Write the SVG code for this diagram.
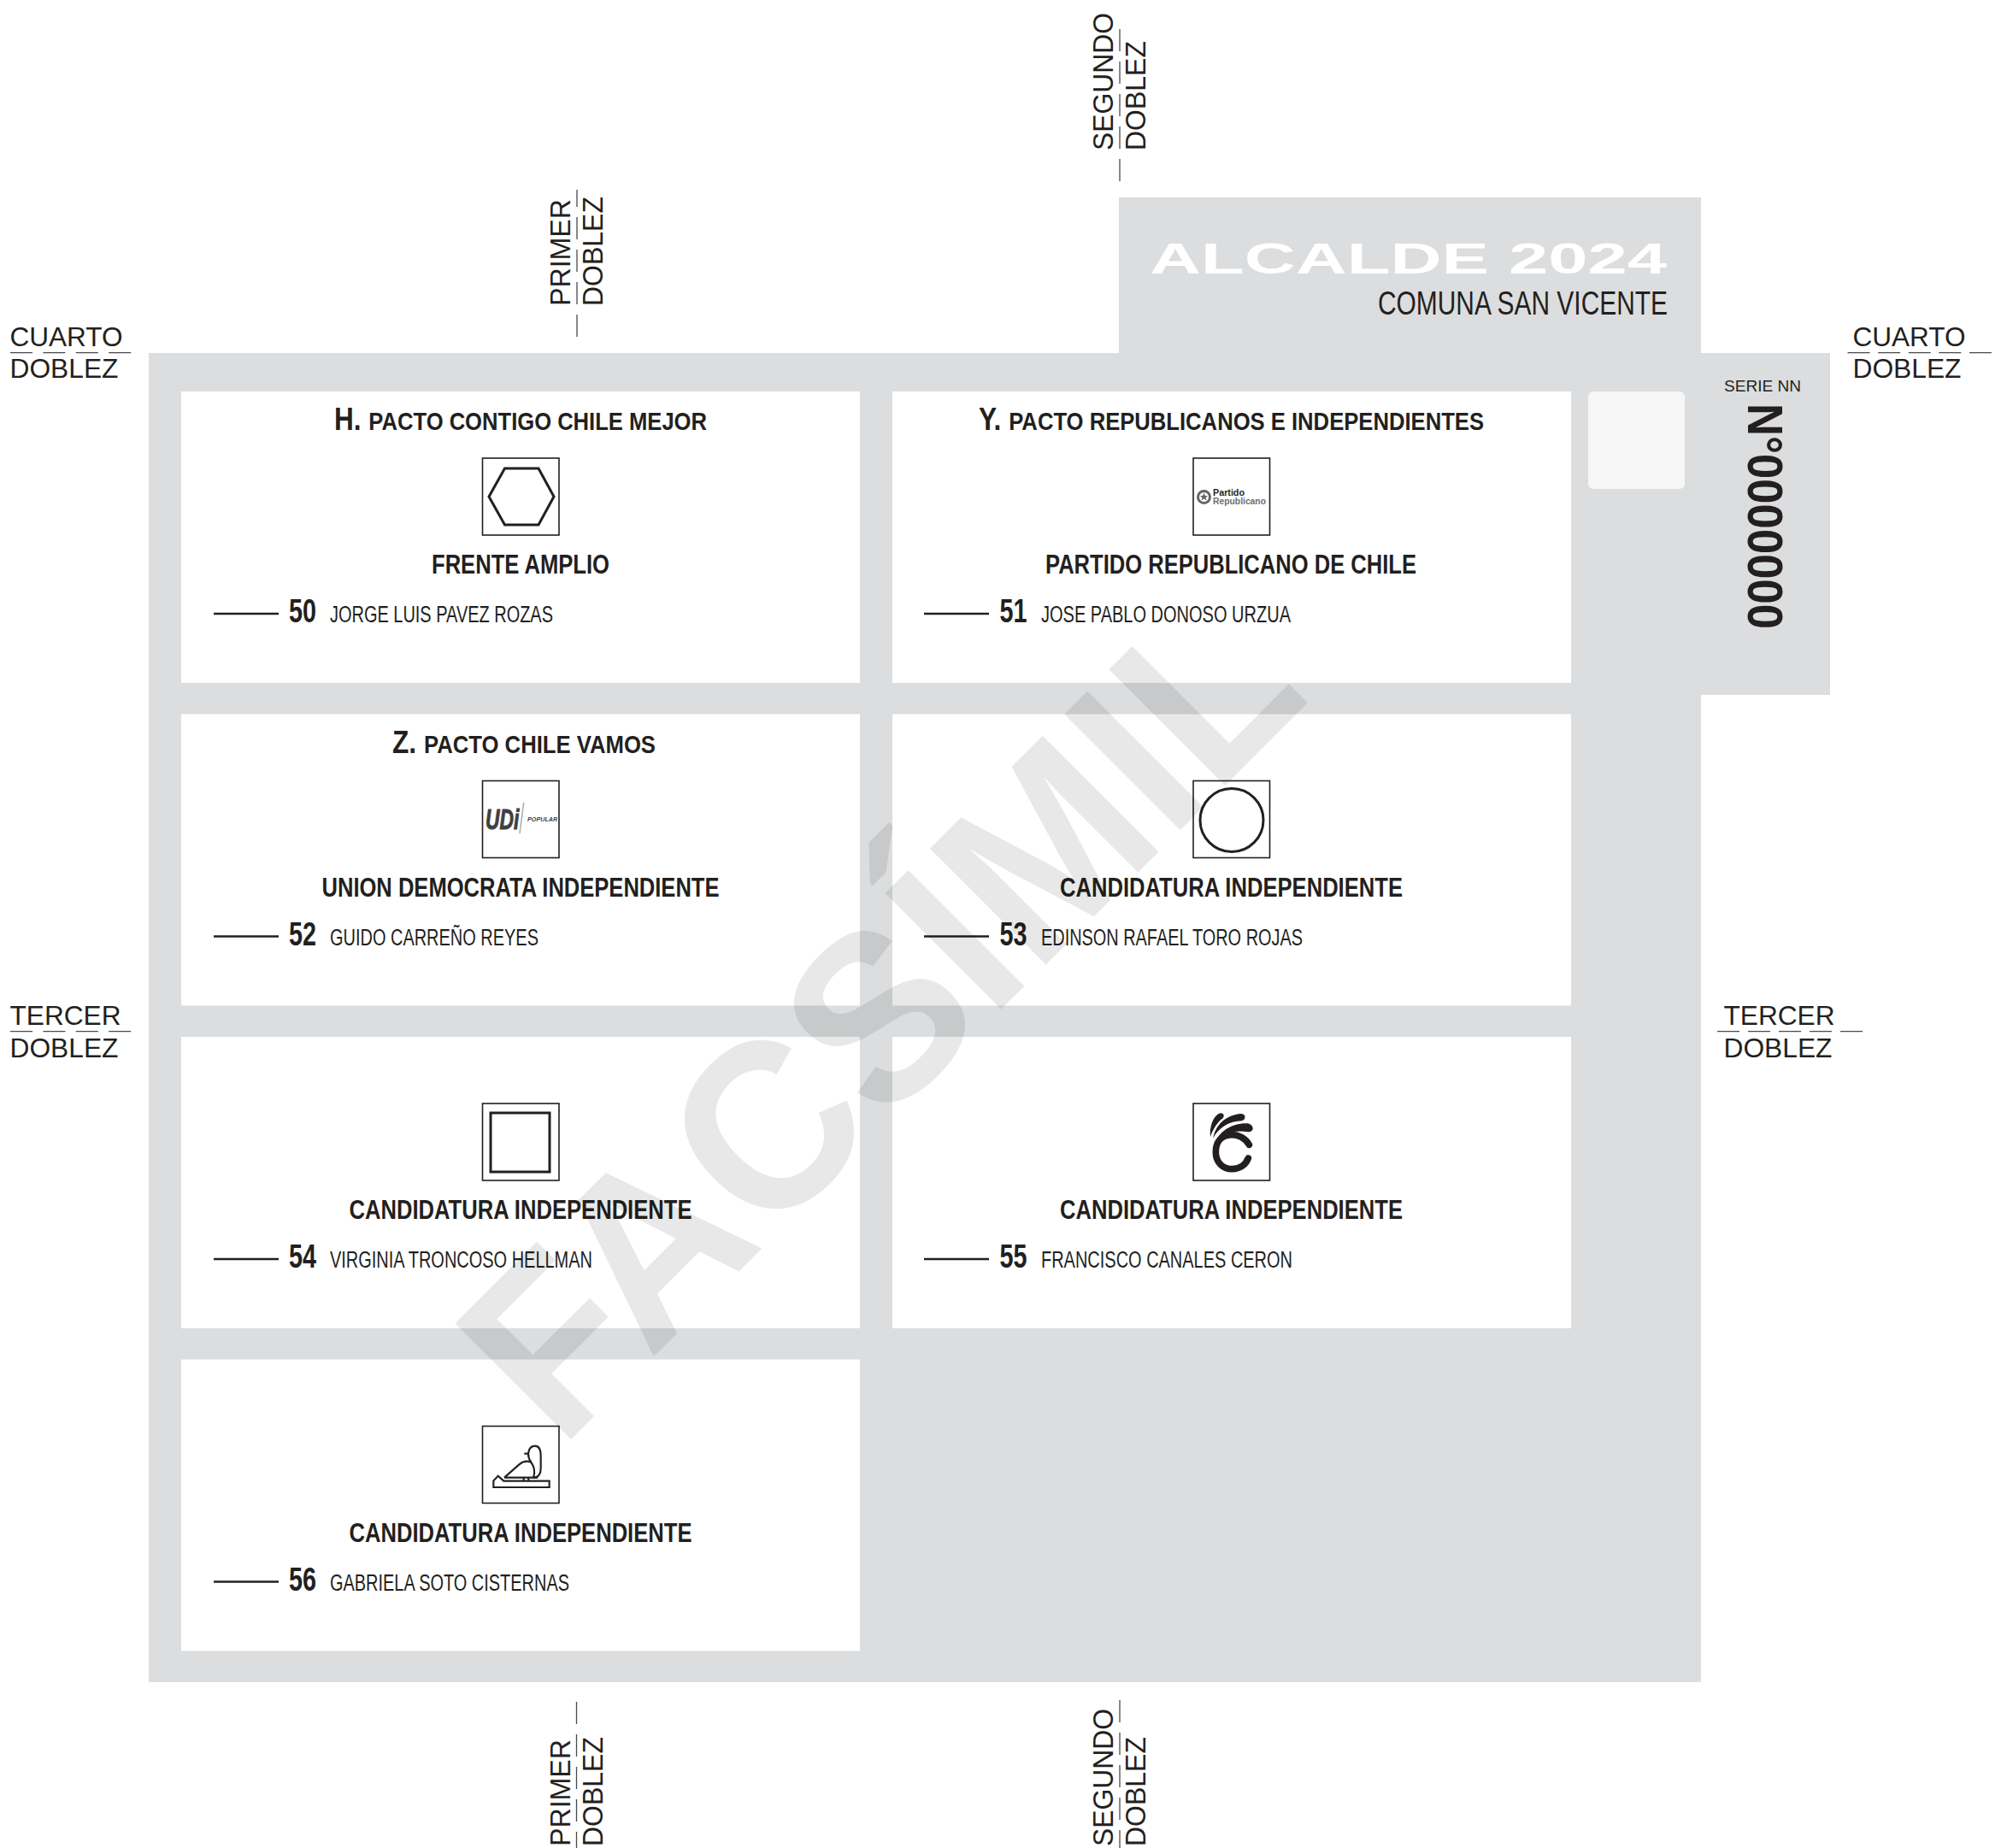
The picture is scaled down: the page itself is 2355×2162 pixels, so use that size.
<svg xmlns="http://www.w3.org/2000/svg" width="2355" height="2162" viewBox="0 0 2355 2162">
<style>
text{font-family:"Liberation Sans",Arial,sans-serif;fill:#231f20}
.n{font-family:"Liberation Sans Narrow","Liberation Sans",Arial,sans-serif}
.t{font-size:30px;font-weight:700}
.t .b{font-size:37px}
.p{font-size:31px;font-weight:700}
.k{font-size:39px;font-weight:700}
.c{font-size:27px}
.f{font-size:32px}
.v{font-size:33px}
.card{fill:#fff}
.box{fill:#fff;stroke:#231f20;stroke-width:1.6}
.mark{stroke:#231f20;stroke-width:2.6;fill:none}
.sym{fill:none;stroke:#231f20;stroke-width:3}
.fold{stroke:#4a4a4c;stroke-width:1.3;fill:none}
</style>
<path id="paper" fill="#dcddde" d="M174 413H1309V231H1990V413H2141V813H1990V1968H174Z"/>
<g id="header">
<text x="1345" y="320" textLength="605" lengthAdjust="spacingAndGlyphs" style="font-size:50px;font-weight:700;fill:#fff">ALCALDE 2024</text>
<text class="n" x="1612" y="368" textLength="339" lengthAdjust="spacingAndGlyphs" style="font-size:39px">COMUNA SAN VICENTE</text>
</g>
<g id="serial">
<rect x="1858" y="458" width="113" height="114" rx="6" fill="#f6f6f6"/>
<text class="n" x="2017" y="458" textLength="90" lengthAdjust="spacingAndGlyphs" style="font-size:19px">SERIE NN</text>
<text transform="translate(2045,472) rotate(90)" textLength="264" lengthAdjust="spacingAndGlyphs" style="font-size:57px;font-weight:700">N°0000000</text>
</g>
<g id="card-50">
<rect class="card" x="212" y="458" width="794" height="341"/>
<text class="n t" x="391" y="503" textLength="436" lengthAdjust="spacingAndGlyphs"><tspan class="b">H.</tspan><tspan dx="2"> PACTO CONTIGO CHILE MEJOR</tspan></text>
<rect class="box" x="564.5" y="536" width="89.5" height="90"/>
<path class="sym" d="M572 581 590.5 548H630L648 581 630 614H590.5Z"/>
<text class="n p" x="505" y="671" textLength="208" lengthAdjust="spacingAndGlyphs">FRENTE AMPLIO</text>
<path class="mark" d="M250 718H326"/>
<text class="n k" x="338" y="728" textLength="32" lengthAdjust="spacingAndGlyphs">50</text>
<text class="n c" x="386" y="728" textLength="261" lengthAdjust="spacingAndGlyphs">JORGE LUIS PAVEZ ROZAS</text>
</g>
<g id="card-51">
<rect class="card" x="1044" y="458" width="794" height="341"/>
<text class="n t" x="1145" y="503" textLength="591" lengthAdjust="spacingAndGlyphs"><tspan class="b">Y.</tspan><tspan dx="2"> PACTO REPUBLICANOS E INDEPENDIENTES</tspan></text>
<rect class="box" x="1396" y="536" width="89.5" height="90"/>
<circle cx="1408.5" cy="581.5" r="7" fill="none" stroke="#666" stroke-width="3"/>
<path d="M1408.5 576.5l1.4 3.4h3.4l-2.7 2.1 1 3.4-3.1-2-3.1 2 1-3.4-2.7-2.1h3.4z" fill="#666"/>
<text x="1419" y="579.5" textLength="37" lengthAdjust="spacingAndGlyphs" style="font-size:11.5px;font-weight:700">Partido</text>
<text x="1419" y="589.5" textLength="62" lengthAdjust="spacingAndGlyphs" style="font-size:11.5px;font-weight:700;fill:#6d6e70">Republicano</text>
<text class="n p" x="1223" y="671" textLength="434" lengthAdjust="spacingAndGlyphs">PARTIDO REPUBLICANO DE CHILE</text>
<path class="mark" d="M1081 718H1157"/>
<text class="n k" x="1169.5" y="728" textLength="32" lengthAdjust="spacingAndGlyphs">51</text>
<text class="n c" x="1218" y="728" textLength="292" lengthAdjust="spacingAndGlyphs">JOSE PABLO DONOSO URZUA</text>
</g>
<g id="card-52">
<rect class="card" x="212" y="835.5" width="794" height="341"/>
<text class="n t" x="459" y="880.5" textLength="308" lengthAdjust="spacingAndGlyphs"><tspan class="b">Z.</tspan><tspan dx="2"> PACTO CHILE VAMOS</tspan></text>
<rect class="box" x="564.5" y="913.5" width="89.5" height="90"/>
<text transform="translate(568,969.5) scale(.69,1)" style="font-size:33px;font-weight:700;font-style:italic;fill:#3f3f41;stroke:#3f3f41;stroke-width:1">UDi</text>
<path d="M612.7 939 608 975" stroke="#aaa" stroke-width="1.5"/>
<text transform="translate(617,961) scale(.96,1)" style="font-size:7.5px;font-weight:700;font-style:italic;fill:#3f3f41">POPULAR</text>
<text class="n p" x="376.5" y="1048.5" textLength="465" lengthAdjust="spacingAndGlyphs">UNION DEMOCRATA INDEPENDIENTE</text>
<path class="mark" d="M250 1095.5H326"/>
<text class="n k" x="338" y="1105.5" textLength="32" lengthAdjust="spacingAndGlyphs">52</text>
<text class="n c" x="386" y="1105.5" textLength="244" lengthAdjust="spacingAndGlyphs">GUIDO CARREÑO REYES</text>
</g>
<g id="card-53">
<rect class="card" x="1044" y="835.5" width="794" height="341"/>
<rect class="box" x="1396" y="913.5" width="89.5" height="90"/>
<circle class="sym" cx="1441" cy="959.5" r="37"/>
<text class="n p" x="1240" y="1048.5" textLength="401" lengthAdjust="spacingAndGlyphs">CANDIDATURA INDEPENDIENTE</text>
<path class="mark" d="M1081 1095.5H1157"/>
<text class="n k" x="1169.5" y="1105.5" textLength="32" lengthAdjust="spacingAndGlyphs">53</text>
<text class="n c" x="1218" y="1105.5" textLength="306" lengthAdjust="spacingAndGlyphs">EDINSON RAFAEL TORO ROJAS</text>
</g>
<g id="card-54">
<rect class="card" x="212" y="1213" width="794" height="341"/>
<rect class="box" x="564.5" y="1291" width="89.5" height="90"/>
<rect class="sym" x="574" y="1302" width="69" height="69"/>
<text class="n p" x="408.5" y="1426" textLength="401" lengthAdjust="spacingAndGlyphs">CANDIDATURA INDEPENDIENTE</text>
<path class="mark" d="M250 1473H326"/>
<text class="n k" x="338" y="1483" textLength="32" lengthAdjust="spacingAndGlyphs">54</text>
<text class="n c" x="386" y="1483" textLength="307" lengthAdjust="spacingAndGlyphs">VIRGINIA TRONCOSO HELLMAN</text>
</g>
<g id="card-55">
<rect class="card" x="1044" y="1213" width="794" height="341"/>
<rect class="box" x="1396" y="1291" width="89.5" height="90"/>
<g transform="translate(1380,1280) scale(.3333)">
<path d="M244 178C232 155 205 141 180 143 145 145 127 170 127 203 127 238 150 263 185 263 212 263 232 248 241 225" fill="none" stroke="#231f20" stroke-width="23" stroke-linecap="round"/>
<path fill="#231f20" d="M108 150C104 115 118 78 138 68 152 62 160 74 152 84 135 97 118 120 108 150ZM118 155C125 108 165 72 215 69 234 69 234 90 218 94 175 94 135 120 118 155ZM122 174C140 130 185 100 240 103 264 110 262 134 240 133 195 124 150 137 122 174Z"/>
</g>
<text class="n p" x="1240" y="1426" textLength="401" lengthAdjust="spacingAndGlyphs">CANDIDATURA INDEPENDIENTE</text>
<path class="mark" d="M1081 1473H1157"/>
<text class="n k" x="1169.5" y="1483" textLength="32" lengthAdjust="spacingAndGlyphs">55</text>
<text class="n c" x="1218" y="1483" textLength="294" lengthAdjust="spacingAndGlyphs">FRANCISCO CANALES CERON</text>
</g>
<g id="card-56">
<rect class="card" x="212" y="1590.5" width="794" height="341"/>
<rect class="box" x="564.5" y="1668.5" width="89.5" height="90"/>
<g transform="translate(550,1670) scale(.3333)" fill="none" stroke="#231f20" stroke-width="6.5">
<path d="M82 210V187L98 170 118 188H278V210Z"/>
<path d="M120 176H238M120 176 172 130C184 120 198 116 214 122"/>
<path d="M190 92H204C206 74 216 65 228 65 242 65 248 80 248 100V145C248 162 240 176 222 176"/>
<path d="M204 92C204 105 208 114 214 122 226 140 228 160 222 176M188 176V188M205 176V188"/>
</g>
<text class="n p" x="408.5" y="1803.5" textLength="401" lengthAdjust="spacingAndGlyphs">CANDIDATURA INDEPENDIENTE</text>
<path class="mark" d="M250 1850.5H326"/>
<text class="n k" x="338" y="1860.5" textLength="32" lengthAdjust="spacingAndGlyphs">56</text>
<text class="n c" x="386" y="1860.5" textLength="280" lengthAdjust="spacingAndGlyphs">GABRIELA SOTO CISTERNAS</text>
</g>
<g id="connectors">
<path class="fold" stroke-dasharray="26 12.4" d="M12 412.7H154M12 1206.7H154"/>
<path class="fold" stroke-dasharray="26 9.6" d="M2161.5 412.7H2330"/>
<path class="fold" stroke-dasharray="26 10" d="M2009 1206.7H2179"/>
<path class="fold" stroke-dasharray="26 12" d="M1310 212V34M675 394V222M674.5 1991V2162M1310 1989V2162"/>
</g>
<g id="fold-labels">
<text class="f" x="11.5" y="405" textLength="132" lengthAdjust="spacingAndGlyphs">CUARTO</text>
<text class="f" x="11.5" y="442" textLength="127" lengthAdjust="spacingAndGlyphs">DOBLEZ</text>
<text class="f" x="2167.5" y="405" textLength="132" lengthAdjust="spacingAndGlyphs">CUARTO</text>
<text class="f" x="2167.5" y="442" textLength="127" lengthAdjust="spacingAndGlyphs">DOBLEZ</text>
<text class="f" x="11.5" y="1198.5" textLength="130" lengthAdjust="spacingAndGlyphs">TERCER</text>
<text class="f" x="11.5" y="1236.5" textLength="127" lengthAdjust="spacingAndGlyphs">DOBLEZ</text>
<text class="f" x="2016.5" y="1198.5" textLength="130" lengthAdjust="spacingAndGlyphs">TERCER</text>
<text class="f" x="2016.5" y="1236.5" textLength="127" lengthAdjust="spacingAndGlyphs">DOBLEZ</text>
<text class="v" transform="translate(1302,176) rotate(-90)" textLength="161" lengthAdjust="spacingAndGlyphs">SEGUNDO</text>
<text class="v" transform="translate(1340,176) rotate(-90)" textLength="128" lengthAdjust="spacingAndGlyphs">DOBLEZ</text>
<text class="v" transform="translate(667,358) rotate(-90)" textLength="125" lengthAdjust="spacingAndGlyphs">PRIMER</text>
<text class="v" transform="translate(705,358) rotate(-90)" textLength="128" lengthAdjust="spacingAndGlyphs">DOBLEZ</text>
<text class="v" transform="translate(667,2160) rotate(-90)" textLength="125" lengthAdjust="spacingAndGlyphs">PRIMER</text>
<text class="v" transform="translate(705,2160) rotate(-90)" textLength="128" lengthAdjust="spacingAndGlyphs">DOBLEZ</text>
<text class="v" transform="translate(1302,2160) rotate(-90)" textLength="161" lengthAdjust="spacingAndGlyphs">SEGUNDO</text>
<text class="v" transform="translate(1340,2160) rotate(-90)" textLength="128" lengthAdjust="spacingAndGlyphs">DOBLEZ</text>
</g>
<text id="watermark" transform="translate(655.4,1696.6) rotate(-45)" textLength="1245" lengthAdjust="spacingAndGlyphs" style="font-size:279px;font-weight:700;fill:#000;fill-opacity:.09">FACSÍMIL</text>
</svg>
